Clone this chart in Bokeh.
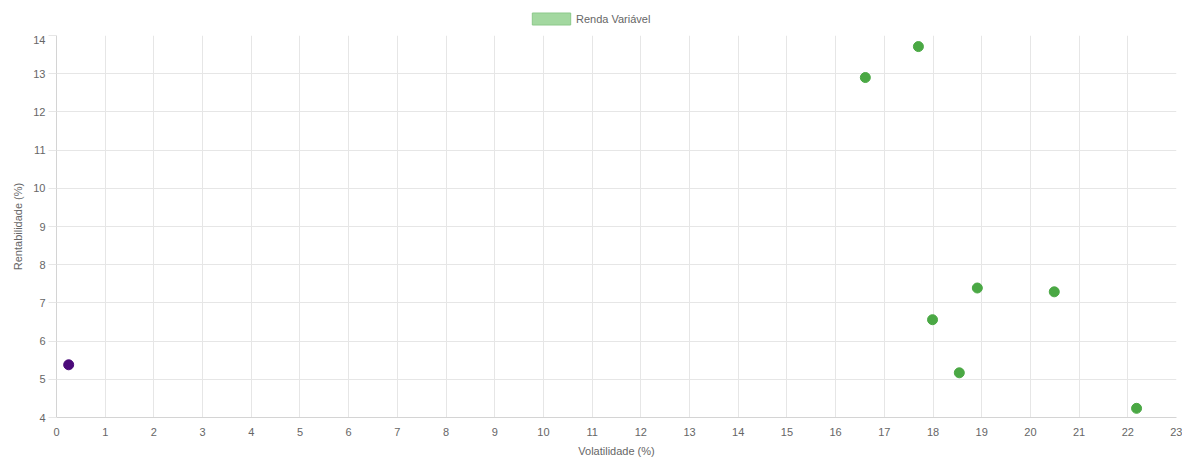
from bokeh.plotting import figure
from bokeh.layouts import column
from bokeh.models import Legend, LegendItem, FixedTicker, ColumnDataSource, Range1d
from bokeh.embed import file_html
from bokeh.resources import INLINE

# Data
rv_vol = [16.61, 17.70, 18.91, 17.99, 20.49, 18.54, 22.18]
rv_ret = [12.90, 13.71, 7.39, 6.56, 7.29, 5.17, 4.24]
other_vol = [0.25]
other_ret = [5.38]
legend_label = "Renda Variável"
x_ticks = list(range(0, 24))
y_ticks = list(range(4, 15))

FONT = "Liberation Sans"
TXT = "#666666"
GRID = "#e6e6e6"
W = 1182
TOP = 35

# ---- legend strip ----
lf = figure(width=W, height=TOP, output_backend="svg", toolbar_location=None,
            x_range=Range1d(0, 1), y_range=Range1d(0, 1),
            min_border=0, x_axis_type=None, y_axis_type=None)
lf.outline_line_color = None
lf.xgrid.visible = False
lf.ygrid.visible = False
sw = lf.rect(x=[0.5], y=[0.5], width=0.1, height=0.1, fill_color="#a3d8a0",
             line_color="#8cc98a", line_width=1, visible=False)
legend = Legend(items=[LegendItem(label=legend_label, renderers=[sw])],
                location=(471, 9), orientation="horizontal",
                glyph_width=48, glyph_height=15, label_standoff=1,
                label_text_font=FONT, label_text_font_size="11px", label_text_color=TXT,
                padding=0, margin=0, spacing=0, label_height=15,
                border_line_color=None, background_fill_alpha=0)
lf.add_layout(legend, "center")

# ---- main chart ----
p = figure(width=W, height=459 - TOP, output_backend="svg", toolbar_location=None,
           x_range=Range1d(0, 23), y_range=Range1d(4, 14),
           min_border_left=56, min_border_right=6, min_border_top=0, min_border_bottom=41)
p.outline_line_color = None

for ax in (p.xaxis[0], p.yaxis[0]):
    ax.axis_line_color = "#d4d4d4"
    ax.major_tick_line_color = GRID
    ax.minor_tick_line_color = None
    ax.major_label_text_font = FONT
    ax.major_label_text_font_size = "11px"
    ax.major_label_text_color = TXT
    ax.axis_label_text_font = FONT
    ax.axis_label_text_font_size = "11px"
    ax.axis_label_text_color = TXT
    ax.axis_label_text_font_style = "normal"

p.xaxis.ticker = FixedTicker(ticks=x_ticks)
p.yaxis.ticker = FixedTicker(ticks=y_ticks)
p.xaxis.major_tick_out = 0
p.xaxis.major_tick_in = 0
p.xaxis.major_label_standoff = 10
p.xaxis.axis_label = "Volatilidade (%)"
p.xaxis.axis_label_standoff = 6
p.yaxis.major_tick_out = 8
p.yaxis.major_tick_in = 0
p.yaxis.major_label_standoff = 3
p.yaxis.axis_label = "Rentabilidade (%)"
p.yaxis.axis_label_standoff = 6

p.xgrid.ticker = FixedTicker(ticks=x_ticks)
p.ygrid.ticker = FixedTicker(ticks=y_ticks)
p.xgrid.grid_line_color = GRID
p.ygrid.grid_line_color = GRID

src_rv = ColumnDataSource(dict(x=rv_vol, y=rv_ret))
src_other = ColumnDataSource(dict(x=other_vol, y=other_ret))

p.scatter("x", "y", source=src_rv, size=10, fill_color="#4aa844", line_color="#4aa844")
p.scatter("x", "y", source=src_other, size=10, fill_color="#4b0a7a", line_color="#4b0a7a")

layout = column(lf, p, spacing=0)
open("out.html", "w").write(file_html(layout, INLINE))
